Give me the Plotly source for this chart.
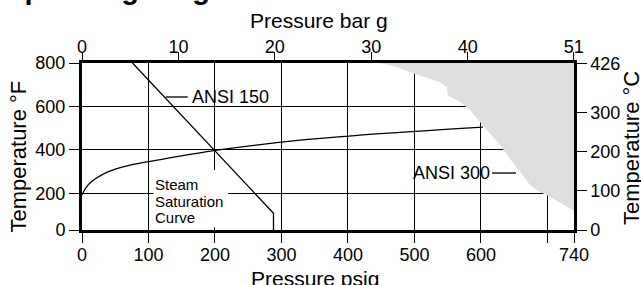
import plotly.graph_objects as go

# ---------------- data ----------------
# ANSI 300 limit (psig, °F) - region to the right/above is shaded
ansi300_psig = [448, 471, 498, 538, 549, 550, 569, 584, 599, 629, 654, 674, 689, 699, 738, 740, 740]
ansi300_degF = [800, 784, 753, 711, 688, 652, 620, 583, 528, 422, 317, 239, 206, 193, 124, 120, 800]

# ANSI 150 limit
ansi150_psig = [76, 288, 288]
ansi150_degF = [800, 109, 32]

# Steam saturation curve
steam_psig = [0, 4.5, 12, 38, 72, 113, 203, 328, 418, 603]
steam_degF = [193, 220, 248, 298, 330, 353, 399, 445, 468, 505]

# tick labels
psig_ticks = [0, 100, 200, 300, 400, 500, 600, 700, 740]
psig_ticktext = ["0", "100", "200", "300", "400", "500", "600", "", "740"]
bar_ticks = [0, 10, 20, 30, 40, 51]
degF_ticks = [32, 200, 400, 600, 800]
degF_ticktext = ["0", "200", "400", "600", "800"]
degC_ticks = [0, 100, 200, 300, 426]

PSI_PER_BAR = 14.5038
FONT = "Liberation Sans, Arial, sans-serif"

fig = go.Figure()

fig.add_trace(go.Scatter(x=ansi300_psig, y=ansi300_degF, fill="toself",
                         fillcolor="#dedede", line=dict(width=0), mode="lines",
                         hoverinfo="skip", showlegend=False))
fig.add_trace(go.Scatter(x=steam_psig, y=steam_degF, mode="lines",
                         line=dict(color="black", width=1.3, shape="spline"),
                         showlegend=False))
fig.add_trace(go.Scatter(x=ansi150_psig, y=ansi150_degF, mode="lines",
                         line=dict(color="black", width=1.3), showlegend=False))
# invisible trace for secondary axes
fig.add_trace(go.Scatter(x=[0, 740 / PSI_PER_BAR], y=[0, (800 - 32) / 1.8],
                         xaxis="x2", yaxis="y2", mode="markers",
                         marker=dict(opacity=0), hoverinfo="skip", showlegend=False))

# white box behind label
fig.add_shape(type="rect", x0=107.5, x1=219.5, y0=43.5, y1=308, xref="x", yref="y",
              fillcolor="white", line=dict(width=0), layer="above")
# leader lines for ANSI labels
fig.add_shape(type="line", x0=126, x1=159, y0=643.6, y1=643.6, xref="x", yref="y",
              line=dict(color="black", width=1.3), layer="above")
fig.add_shape(type="line", x0=616.7, x1=652.8, y0=294, y1=294, xref="x", yref="y",
              line=dict(color="black", width=1.3), layer="above")

ann = []
ann.append(dict(x=162.4, y=643.6, xref="x", yref="y", text="ANSI 150", showarrow=False,
                xanchor="left", yanchor="middle", font=dict(size=18, color="black", family=FONT)))
ann.append(dict(x=616.7, y=294, xref="x", yref="y", text="ANSI 300", showarrow=False,
                xanchor="right", yanchor="middle", font=dict(size=18, color="black", family=FONT)))
for txt, yy in [("Steam", 243.5), ("Saturation", 165.3), ("Curve", 91.8)]:
    ann.append(dict(x=109.8, y=yy, xref="x", yref="y", text=txt, showarrow=False,
                    xanchor="left", yanchor="middle", xshift=-2,
                    font=dict(size=15, color="black", family=FONT)))
# axis titles
ann.append(dict(x=0.482, y=1.255, xref="paper", yref="paper", text="Pressure bar g",
                showarrow=False, xanchor="center", yanchor="middle",
                font=dict(size=21, color="black", family=FONT)))
ann.append(dict(x=0.474, y=-0.29, xref="paper", yref="paper", text="Pressure psig",
                showarrow=False, xanchor="center", yanchor="middle",
                font=dict(size=21, color="black", family=FONT)))
ann.append(dict(x=-0.131, y=0.437, xref="paper", yref="paper", text="Temperature °F",
                showarrow=False, textangle=-90, xanchor="center", yanchor="middle",
                font=dict(size=22, color="black", family=FONT)))
ann.append(dict(x=1.116, y=0.491, xref="paper", yref="paper", text="Temperature °C",
                showarrow=False, textangle=-90, xanchor="center", yanchor="middle",
                font=dict(size=22, color="black", family=FONT)))
# main title (mostly cropped at the top)
ann.append(dict(x=-0.167, y=1.335, xref="paper", yref="paper", text="<b>Operating range</b>",
                showarrow=False, xanchor="left", yanchor="bottom",
                font=dict(size=29, color="black", family=FONT)))

tickfont = dict(size=18, color="black", family=FONT)

fig.update_layout(
    width=641, height=285,
    margin=dict(l=82, r=67, t=63, b=55, pad=0),
    paper_bgcolor="white", plot_bgcolor="white",
    showlegend=False,
    annotations=ann,
    xaxis=dict(range=[0, 740], tickvals=psig_ticks, ticktext=psig_ticktext,
               ticks="outside", ticklen=10, tickwidth=1.3, tickcolor="black",
               showgrid=True, gridcolor="black", gridwidth=1.3,
               showline=True, linecolor="black", linewidth=3, zeroline=False,
               tickfont=tickfont, ticklabelstandoff=-4),
    xaxis2=dict(range=[0, 740 / PSI_PER_BAR], overlaying="x", side="top", anchor="y",
                tickvals=bar_ticks, ticks="outside", ticklen=8, tickwidth=1.3,
                tickcolor="black", showgrid=False, showline=True, linecolor="black",
                linewidth=2.5, zeroline=False, tickfont=tickfont, ticklabelstandoff=-8),
    yaxis=dict(range=[32, 800], tickvals=degF_ticks, ticktext=degF_ticktext,
               ticks="outside", ticklen=10, tickwidth=1.3, tickcolor="black",
               showgrid=True, gridcolor="black", gridwidth=1.3,
               showline=True, linecolor="black", linewidth=3, zeroline=False,
               tickfont=tickfont),
    yaxis2=dict(range=[0, (800 - 32) / 1.8], overlaying="y", side="right", anchor="x",
                tickvals=degC_ticks, ticks="outside", ticklen=10, tickwidth=1.3,
                tickcolor="black", showgrid=False, showline=True, linecolor="black",
                linewidth=2.5, zeroline=False, tickfont=tickfont),
)

fig.write_html("out.html", config={"displayModeBar": False},
               post_script="document.body.style.margin='0px';document.body.style.overflow='hidden';")
